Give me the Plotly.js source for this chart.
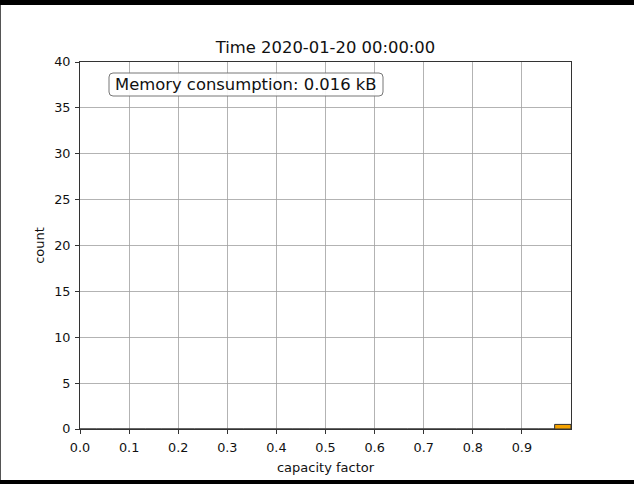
<!DOCTYPE html>
<html>
<head>
<meta charset="utf-8">
<script src="https://cdn.plot.ly/plotly-3.0.1.min.js"></script>
<style>html,body{margin:0;padding:0;background:#fff;}#chart{width:634px;height:484px;}</style>
</head>
<body>
<div id="chart"></div>
<script>
// ---- data ----
const binCount = 30;
const binLefts = [0,1,2,3,4,5,6,7,8,9,10,11,12,13,14,15,16,17,18,19,20,21,22,23,24,25,26,27,28,29].map(k => k / 30);
const counts = [0,0,0,0,0,0,0,0,0,0,0,0,0,0,0,0,0,0,0,0,0,0,0,0,0,0,0,0,0,0.5];
const xTickVals = [0,0.1,0.2,0.3,0.4,0.5,0.6,0.7,0.8,0.9];
const xTickText = ["0.0","0.1","0.2","0.3","0.4","0.5","0.6","0.7","0.8","0.9"];
const yTickVals = [0,5,10,15,20,25,30,35,40];
const titleText = "Time 2020-01-20 00:00:00";
const memoryText = "Memory consumption: 0.016 kB";
const xLabel = "capacity factor";
const yLabel = "count";

const binW = 1 / binCount;
const trace = {
  type: 'bar',
  x: binLefts.map(v => v + binW / 2),
  y: counts,
  width: binLefts.map(() => binW),
  marker: {color: '#f5a300', line: {color: '#333333', width: 1}},
  hoverinfo: 'skip'
};

const fam = 'DejaVu Sans, sans-serif';
const L = 80, R = 63, T = 62, B = 55, W = 634, H = 484;
const pw = W - L - R, ph = H - T - B;
const px = x => (x - L) / pw;
const py = y => (H - B - y) / ph;

// rounded box for annotation
const bx0 = px(109), bx1 = px(383), by0 = py(96), by1 = py(73);
const rx = 4 / pw, ry = 4 / ph;
const boxPath = `M ${bx0+rx},${by1} L ${bx1-rx},${by1} Q ${bx1},${by1} ${bx1},${by1-ry} L ${bx1},${by0+ry} Q ${bx1},${by0} ${bx1-rx},${by0} L ${bx0+rx},${by0} Q ${bx0},${by0} ${bx0},${by0+ry} L ${bx0},${by1-ry} Q ${bx0},${by1} ${bx0+rx},${by1} Z`;

const layout = {
  width: W, height: H,
  margin: {l: L, r: R, t: T, b: B},
  paper_bgcolor: '#fff', plot_bgcolor: '#fff',
  font: {family: fam, color: '#000', size: 12},
  showlegend: false,
  bargap: 0,
  title: {text: titleText, font: {family: fam, size: 16.4, color: '#111'}, x: (325.5) / W, xanchor: 'center', y: 1 - 47 / H, yanchor: 'middle'},
  xaxis: {
    range: [0, 1], tickvals: xTickVals, ticktext: xTickText,
    showgrid: true, gridcolor: '#a0a0a0', gridwidth: 0.8,
    zeroline: false, showline: true, linecolor: '#333', linewidth: 1, mirror: true,
    ticks: 'outside', ticklen: 4, tickcolor: '#333', ticklabelstandoff: 3,
    tickfont: {family: fam, size: 12.8, color: '#111'},
    title: {text: xLabel, font: {family: fam, size: 13, color: '#111'}, standoff: 8}
  },
  yaxis: {
    range: [0, 40], tickvals: yTickVals,
    showgrid: true, gridcolor: '#a0a0a0', gridwidth: 0.8,
    zeroline: false, showline: true, linecolor: '#333', linewidth: 1, mirror: true,
    ticks: 'outside', ticklen: 4, tickcolor: '#333', ticklabelstandoff: 2,
    tickfont: {family: fam, size: 12.8, color: '#111'},
    title: {text: yLabel, font: {family: fam, size: 13, color: '#111'}, standoff: 6}
  },
  shapes: [
    {type: 'path', xref: 'paper', yref: 'paper', path: boxPath, line: {color: '#777', width: 1}, fillcolor: 'rgba(255,255,255,0.9)', layer: 'above'},
    {type: 'rect', xref: 'paper', yref: 'paper', x0: px(0), x1: px(634), y0: py(5), y1: py(0), fillcolor: '#000', line: {width: 0}},
    {type: 'rect', xref: 'paper', yref: 'paper', x0: px(0), x1: px(634), y0: py(484), y1: py(480), fillcolor: '#000', line: {width: 0}},
    {type: 'line', xref: 'paper', yref: 'paper', x0: px(0.5), x1: px(0.5), y0: py(480), y1: py(5), line: {color: '#555', width: 1}}
  ],
  annotations: [
    {xref: 'paper', yref: 'paper', x: (bx0 + bx1) / 2, y: (by0 + by1) / 2, text: memoryText, showarrow: false,
     font: {family: fam, size: 16.4, color: '#111'}, xanchor: 'center', yanchor: 'middle'}
  ]
};

Plotly.newPlot('chart', [trace], layout, {displayModeBar: false, staticPlot: true});
</script>
</body>
</html>
